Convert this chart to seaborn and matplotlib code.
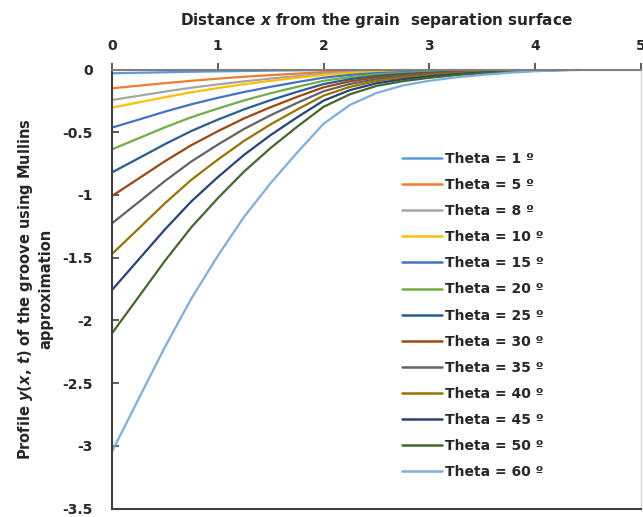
import pandas as pd
import matplotlib
matplotlib.use("Agg")
import matplotlib.pyplot as plt
import seaborn as sns

# distancia x (mesma grade para todas as curvas)
x_vals = [0.0, 0.25, 0.5, 0.75, 1.0, 1.25, 1.5, 1.75, 2.0, 2.25, 2.5,
          2.75, 3.0, 3.25, 3.5, 3.75, 4.0, 4.25, 4.5, 4.75, 5.0]

# perfis y(x,t), um por angulo
theta_1 = [-0.030, -0.026, -0.022, -0.018, -0.015, -0.012, -0.009, -0.007, -0.004, -0.003, -0.002,
           -0.001, -0.001, -0.001, 0.0, 0.0, 0.0, 0.0, 0.0, 0.0, 0.0]
theta_5 = [-0.150, -0.129, -0.109, -0.090, -0.073, -0.058, -0.045, -0.033, -0.021, -0.014, -0.009,
           -0.007, -0.005, -0.003, -0.002, -0.001, -0.001, 0.0, 0.0, 0.0, 0.0]
theta_8 = [-0.243, -0.210, -0.176, -0.145, -0.119, -0.094, -0.072, -0.053, -0.034, -0.023, -0.015,
           -0.011, -0.008, -0.005, -0.003, -0.002, -0.001, 0.0, 0.0, 0.0, 0.0]
theta_10 = [-0.304, -0.262, -0.221, -0.182, -0.148, -0.117, -0.090, -0.066, -0.043, -0.028, -0.019,
            -0.013, -0.009, -0.006, -0.004, -0.002, -0.001, -0.001, 0.0, 0.0, 0.0]
theta_15 = [-0.463, -0.400, -0.336, -0.277, -0.226, -0.179, -0.138, -0.100, -0.065, -0.043, -0.029,
            -0.021, -0.014, -0.010, -0.006, -0.004, -0.002, -0.001, 0.0, 0.0, 0.0]
theta_20 = [-0.636, -0.549, -0.461, -0.380, -0.311, -0.246, -0.189, -0.138, -0.090, -0.060, -0.040,
            -0.028, -0.020, -0.014, -0.009, -0.005, -0.003, -0.001, 0.0, 0.0, 0.0]
theta_25 = [-0.820, -0.708, -0.595, -0.490, -0.400, -0.317, -0.244, -0.178, -0.116, -0.077, -0.051,
            -0.036, -0.026, -0.017, -0.011, -0.007, -0.004, -0.002, -0.001, 0.0, 0.0]
theta_30 = [-1.008, -0.870, -0.731, -0.603, -0.492, -0.389, -0.300, -0.218, -0.142, -0.094, -0.063,
            -0.045, -0.031, -0.021, -0.014, -0.008, -0.004, -0.002, -0.001, 0.0, 0.0]
theta_35 = [-1.226, -1.058, -0.889, -0.733, -0.599, -0.473, -0.364, -0.266, -0.173, -0.115, -0.077,
            -0.054, -0.038, -0.026, -0.017, -0.010, -0.005, -0.002, -0.001, 0.0, 0.0]
theta_40 = [-1.470, -1.269, -1.066, -0.879, -0.718, -0.568, -0.437, -0.319, -0.208, -0.138, -0.092,
            -0.065, -0.046, -0.031, -0.020, -0.012, -0.006, -0.003, -0.001, 0.0, 0.0]
theta_45 = [-1.757, -1.516, -1.275, -1.051, -0.858, -0.679, -0.522, -0.381, -0.248, -0.164, -0.110,
            -0.078, -0.055, -0.037, -0.024, -0.014, -0.008, -0.004, -0.001, 0.0, 0.0]
theta_50 = [-2.102, -1.814, -1.525, -1.257, -1.026, -0.812, -0.625, -0.456, -0.297, -0.197, -0.131,
            -0.093, -0.066, -0.045, -0.029, -0.017, -0.009, -0.004, -0.001, 0.0, 0.0]
theta_60 = [-3.045, -2.627, -2.212, -1.825, -1.485, -1.172, -0.905, -0.662, -0.432, -0.282, -0.187,
            -0.127, -0.090, -0.063, -0.043, -0.026, -0.014, -0.006, -0.002, 0.0, 0.0]

angulos = [1, 5, 8, 10, 15, 20, 25, 30, 35, 40, 45, 50, 60]
perfis = [theta_1, theta_5, theta_8, theta_10, theta_15, theta_20, theta_25,
          theta_30, theta_35, theta_40, theta_45, theta_50, theta_60]
cores = ["#5B9BD5", "#ED7D31", "#A5A5A5", "#FFC000", "#4472C4", "#70AD47", "#255E91",
         "#9E480E", "#636363", "#997300", "#264478", "#43682B", "#7CAFDD"]

# tabela longa para o seaborn
linhas = []
for ang, perfil in zip(angulos, perfis):
    rotulo = f"Theta = {ang} º"
    for xv, yv in zip(x_vals, perfil):
        linhas.append({"x": xv, "y": yv, "Theta": rotulo})
df = pd.DataFrame(linhas)
ordem = [f"Theta = {a} º" for a in angulos]
paleta = dict(zip(ordem, cores))

sns.set_theme(style="white")
plt.rcParams["font.family"] = ["DejaVu Sans"]
plt.rcParams["font.weight"] = "bold"
plt.rcParams["mathtext.fontset"] = "custom"
plt.rcParams["mathtext.rm"] = "DejaVu Sans:bold"
plt.rcParams["mathtext.it"] = "DejaVu Sans:italic:bold"
plt.rcParams["mathtext.bf"] = "DejaVu Sans:bold"

fig = plt.figure(figsize=(6.43, 5.17), dpi=100)
ax = fig.add_axes([112 / 643, 1 - 508.7 / 517, (641 - 112) / 643, (508.7 - 69.5) / 517])

sns.lineplot(data=df, x="x", y="y", hue="Theta", hue_order=ordem, palette=paleta,
             linewidth=1.6, ax=ax, legend=True)

ax.set_xlim(0, 5)
ax.set_ylim(-3.5, 0)
ax.set_xticks([0, 1, 2, 3, 4, 5])
ax.set_yticks([0, -0.5, -1, -1.5, -2, -2.5, -3, -3.5])
ax.set_yticklabels(["0", "-0.5", "-1", "-1.5", "-2", "-2.5", "-3", "-3.5"])

ax.xaxis.tick_top()
ax.xaxis.set_label_position("top")
ax.tick_params(axis="x", direction="out", length=5, width=1.2, color="#404040",
               labelsize=10, pad=7, labelcolor="#262626")
ax.tick_params(axis="y", direction="in", length=5, width=1.2, color="#404040",
               labelsize=10, pad=14, labelcolor="#262626", left=True)

ax.set_xlabel("Distance $x$ from the grain  separation surface", fontsize=11,
              fontweight="bold", labelpad=10, color="#262626")
ax.set_ylabel("Profile $y(x,\\,t)$ of the groove using Mullins\napproximation", fontsize=10.5,
              fontweight="bold", labelpad=6, color="#262626", linespacing=1.3)

for lado in ["top", "left", "bottom"]:
    ax.spines[lado].set_color("#404040")
    ax.spines[lado].set_linewidth(1.5)
ax.spines["top"].set_color("#7f7f7f")
ax.spines["right"].set_color("#d9d9d9")
ax.spines["right"].set_linewidth(1.0)

leg = ax.legend(loc="upper left", bbox_to_anchor=(402 / 643, 1 - 152 / 517),
                bbox_transform=fig.transFigure, frameon=False, fontsize=10,
                handlelength=2.88, handletextpad=0.25, labelspacing=0.87,
                borderaxespad=0, borderpad=0)
for txt in leg.get_texts():
    txt.set_fontweight("bold")
    txt.set_color("#262626")
for linha in leg.get_lines():
    linha.set_linewidth(1.8)

fig.savefig("out.png", dpi=100)
plt.close(fig)
